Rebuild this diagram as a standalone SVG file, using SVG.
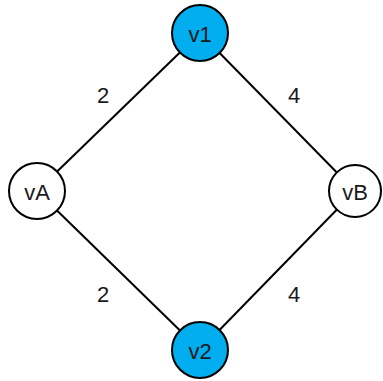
<svg xmlns="http://www.w3.org/2000/svg" width="383" height="381" viewBox="0 0 383 381">
<style>
.n{stroke:#000;stroke-width:2;fill:#fff}
.c{fill:#00AEEF}
.t{font-family:"Liberation Sans",Arial,sans-serif;font-size:22px;fill:#1a1a1a;text-anchor:middle;dominant-baseline:central}
.e{stroke:#000;stroke-width:2;fill:none}
</style>
<rect width="383" height="381" fill="#fff"/>
<g id="edges">
<line class="e" x1="37" y1="191" x2="200" y2="33"/>
<line class="e" x1="200" y1="33" x2="355" y2="191"/>
<line class="e" x1="37" y1="191" x2="200" y2="350"/>
<line class="e" x1="355" y1="191" x2="200" y2="350"/>
<text class="t" x="103" y="95">2</text>
<text class="t" x="294" y="95">4</text>
<text class="t" x="103" y="294">2</text>
<text class="t" x="294" y="294">4</text>
</g>
<g id="v1"><circle class="n c" cx="200" cy="33" r="28"/><text class="t" x="200" y="34">v1</text></g>
<g id="vA"><circle class="n" cx="37" cy="191" r="28"/><text class="t" x="37" y="192">vA</text></g>
<g id="vB"><circle class="n" cx="355" cy="191" r="26"/><text class="t" x="355" y="192">vB</text></g>
<g id="v2"><circle class="n c" cx="200" cy="350" r="28"/><text class="t" x="200" y="351">v2</text></g>
</svg>
